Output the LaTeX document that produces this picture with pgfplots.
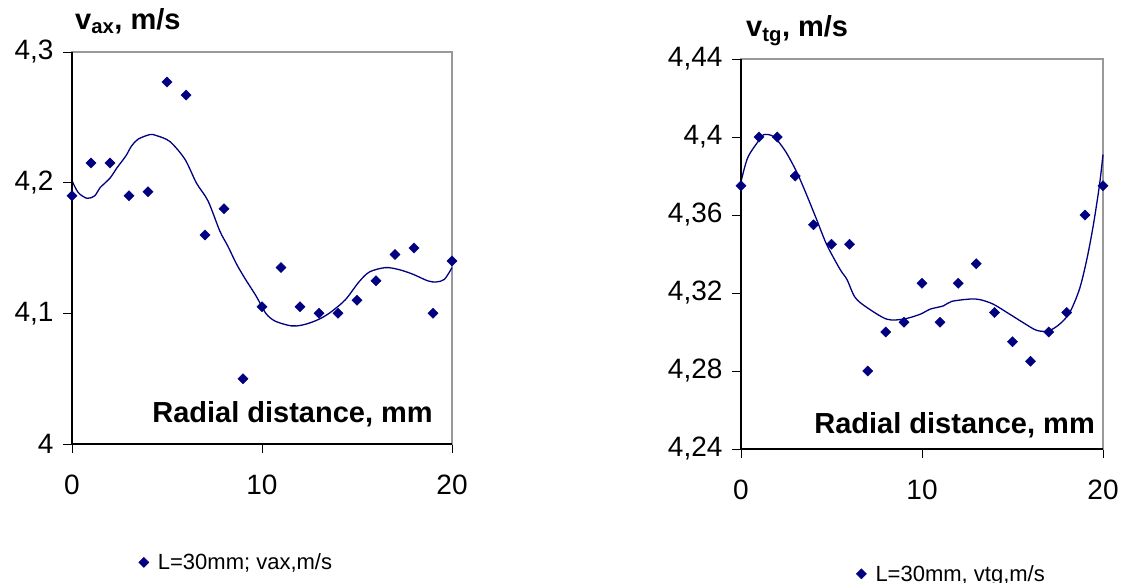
\documentclass[border=0pt]{standalone}
\usepackage{pgfplots}
\pgfplotsset{compat=1.18}
\usepackage{fontspec}
\setmainfont{Liberation Sans}
\definecolor{navy}{RGB}{0,0,128}
\pgfplotsset{
  mystyle/.style={
    scale only axis,
    anchor=south west,
    xmin=0, xmax=20,
    xtick={0,10,20},
    tick align=outside,
    major tick length=9pt,
    xtick pos=bottom, ytick pos=left,
    tick style={black, line width=0.8pt},
    axis line style={gray!80, line width=1.2pt},
    clip=false,
    /pgf/number format/.cd, use comma, fixed, assume math mode=true,
    /pgfplots/.cd,
    ticklabel style={font=\fontsize{28}{32}\selectfont},
    xticklabel style={yshift=-18pt},
    yticklabel style={xshift=-6pt},
    legend style={draw=none, fill=none, font=\fontsize{22}{26}\selectfont, inner sep=0pt},
    legend cell align=left,
  }
}
\begin{document}
\begin{tikzpicture}[x=1pt,y=1pt]
\useasboundingbox (0,0) rectangle (1126,582);
% ---------- left ----------
\begin{axis}[mystyle, at={(72pt,138pt)}, width=380pt, height=392pt,
  ymin=4, ymax=4.3, ytick={4,4.1,4.2,4.3},
  legend style={at={(0.175,-0.302)}, anchor=west}]
\addplot[only marks, mark=square*, mark size=3.6pt, mark options={rotate=45, fill=navy, draw=navy}, color=navy] coordinates {
(0,4.19) (1,4.215) (2,4.215) (3,4.19) (4,4.193) (5,4.277) (6,4.267) (7,4.16) (8,4.18) (9,4.05)
(10,4.105) (11,4.135) (12,4.105) (13,4.1) (14,4.1) (15,4.11) (16,4.125) (17,4.145) (18,4.15) (19,4.1) (20,4.14)
};
\addlegendentry{\hspace{7pt}L=30mm; vax,m/s}
\addplot[navy, line width=1.3pt, smooth, tension=0.5, forget plot] coordinates {
(0,4.2015) (0.33,4.1924) (0.8,4.188) (1.2,4.19) (1.47,4.196) (2,4.2035) (2.35,4.211) (2.84,4.2206) (3.13,4.228) (3.48,4.2333) (4.1,4.2368) (4.45,4.236) (5.15,4.2315) (5.94,4.218) (6.55,4.1997) (7.16,4.186) (7.78,4.163) (8.2,4.1515) (8.65,4.138) (9.09,4.127) (9.7,4.113) (10.2,4.100) (10.7,4.094) (11.54,4.0904) (12.1,4.091) (12.68,4.0935) (13.2,4.097) (13.7,4.1018) (14.4,4.1106) (15.1,4.124) (15.66,4.1317) (16.5,4.135) (17.2,4.1335) (17.93,4.13) (18.72,4.1249) (19.16,4.124) (19.6,4.126) (20,4.135)
};
\draw[black, line width=1.2pt] (rel axis cs:0,1) -- (rel axis cs:0,0) -- (rel axis cs:1,0);
\end{axis}
% ---------- right ----------
\begin{axis}[mystyle, at={(741pt,133pt)}, width=362pt, height=390pt,
  ymin=4.24, ymax=4.44, ytick={4.24,4.28,4.32,4.36,4.4,4.44},
  legend style={at={(0.318,-0.32)}, anchor=west}]
\addplot[only marks, mark=square*, mark size=3.6pt, mark options={rotate=45, fill=navy, draw=navy}, color=navy] coordinates {
(0,4.375) (1,4.4) (2,4.4) (3,4.38) (4,4.355) (5,4.345) (6,4.345) (7,4.28) (8,4.30) (9,4.305)
(10,4.325) (11,4.305) (12,4.325) (13,4.335) (14,4.31) (15,4.295) (16,4.285) (17,4.30) (18,4.31) (19,4.36) (20,4.375)
};
\addlegendentry{\hspace{7pt}L=30mm, vtg,m/s}
\addplot[navy, line width=1.3pt, smooth, tension=0.5, forget plot] coordinates {
(0,4.377) (0.37,4.3894) (0.97,4.398) (1.25,4.4012) (1.8,4.4002) (2.44,4.3929) (3.09,4.3818) (3.64,4.37) (4.19,4.3574) (4.74,4.3447) (5.48,4.332) (5.85,4.327) (6.3,4.3178) (6.95,4.3126) (8.05,4.3066) (8.97,4.3066) (9.9,4.3091) (10.44,4.3117) (11.18,4.3134) (11.64,4.3157) (12.65,4.3169) (13.2,4.3166) (13.93,4.3143) (14.85,4.3091) (15.59,4.3048) (16.32,4.3009) (16.97,4.3005) (17.6,4.304) (18.16,4.31) (18.7,4.322) (19.1,4.337) (19.45,4.354) (19.8,4.375) (20,4.391)
};
\draw[black, line width=1.2pt] (rel axis cs:0,1) -- (rel axis cs:0,0) -- (rel axis cs:1,0);
\end{axis}
% ---------- texts ----------
\node[anchor=base west, inner sep=0pt, font=\fontsize{29}{32}\selectfont\bfseries] at (75,552) {v\textsubscript{ax}, m/s};
\node[anchor=base west, inner sep=0pt, font=\fontsize{29}{32}\selectfont\bfseries] at (746,545) {v\textsubscript{tg}, m/s};
\node[anchor=base east, inner sep=0pt, font=\fontsize{29}{32}\selectfont\bfseries] at (433,160) {Radial distance, mm};
\node[anchor=base east, inner sep=0pt, font=\fontsize{29}{32}\selectfont\bfseries] at (1095,149) {Radial distance, mm};
\end{tikzpicture}
\end{document}
